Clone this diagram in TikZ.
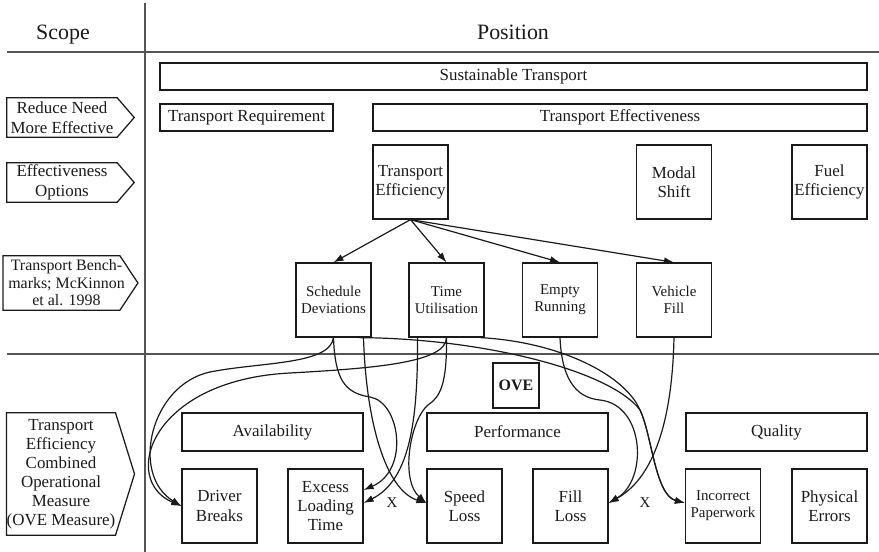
\documentclass[tikz,border=0pt]{standalone}
\usepackage{fontspec}
\setmainfont{Liberation Serif}
\usetikzlibrary{arrows.meta}

\definecolor{ink}{HTML}{1A1A1A}
\definecolor{rulegray}{HTML}{555555}

\begin{document}
\begin{tikzpicture}[x=1bp,y=-1bp,
  every node/.style={text=ink},
  big/.style={font=\fontsize{17}{19.5}\selectfont},
  small/.style={font=\fontsize{15}{17}\selectfont},
  box/.style={draw=ink, line width=1.25bp, inner sep=0pt, align=center, big},
  wide/.style={box, minimum height=27bp},
  cat/.style={box, minimum width=181bp, minimum height=38bp},
  sq/.style={box, minimum width=75bp, minimum height=74bp},
  tag/.style={inner sep=0pt, align=center, big},
  tagline/.style={draw=ink, line width=1.25bp, line join=miter},
  heading/.style={font=\fontsize{22}{26}\selectfont, anchor=base},
  divider/.style={draw=rulegray, line width=1.6bp},
  link/.style={draw=ink, line width=1.2bp, -{Latex[length=10bp,width=7bp]}},
]
\useasboundingbox (0,0) rectangle (879,552);

% column dividers
\draw[divider] (7,52) -- (879,52);
\draw[divider] (7,354) -- (879,354);
\draw[divider] (145,3) -- (145,552);

% headings
\node[heading] (scope) at (63,40) {Scope};
\node[heading] (position) at (513,40) {Position};

% scope tags (pentagon arrows)
\node[tag, minimum width=110bp, minimum height=39bp] (tagA) at (62,117.5) {Reduce Need\\More Effective};
\draw[tagline] (tagA.north west) -- (tagA.north east) -- ([xshift=17bp]tagA.east) -- (tagA.south east) -- (tagA.south west) -- cycle;

\node[tag, minimum width=110bp, minimum height=39bp] (tagB) at (62,182.5) {Effectiveness\\Options};
\draw[tagline] (tagB.north west) -- (tagB.north east) -- ([xshift=17bp]tagB.east) -- (tagB.south east) -- (tagB.south west) -- cycle;

% the benchmark tag's text sits a little right of the body's centre
\node[tag, font=\fontsize{16}{17.5}\selectfont, minimum width=109bp, minimum height=54bp] (tagC) at (66.5,283) {Transport Bench-\\marks; McKinnon\\et al. 1998};
\draw[tagline] ([xshift=-5bp]tagC.north west) -- ([xshift=-5bp]tagC.north east) -- ([xshift=13bp]tagC.east) -- ([xshift=-5bp]tagC.south east) -- ([xshift=-5bp]tagC.south west) -- cycle;

\node[tag, font=\fontsize{17}{19}\selectfont, minimum width=108bp, minimum height=122bp] (tagD) at (61,474) {Transport\\Efficiency\\Combined\\Operational\\Measure\\(OVE Measure)};
\draw[tagline] (tagD.north west) -- (tagD.north east) -- ([xshift=19bp]tagD.east) -- (tagD.south east) -- (tagD.south west) -- cycle;

% position hierarchy
\node[wide, minimum width=707bp] (sust) at (513.5,76.5) {Sustainable Transport};
\node[wide, minimum width=173bp] (treq) at (246.5,117.5) {Transport Requirement};
\node[wide, minimum width=494bp] (teff) at (620,117.5) {Transport Effectiveness};

\node[sq] (tefc) at (410.5,182) {Transport\\Efficiency};
\node[sq] (modal) at (674,182) {Modal\\Shift};
\node[sq] (fuel) at (829.5,182) {Fuel\\Efficiency};

\node[sq, small] (sd) at (333.5,300) {Schedule\\Deviations};
\node[sq, small] (tu) at (446.5,300) {Time\\Utilisation};
\node[sq, small] (er) at (560,300) {Empty\\Running};
\node[sq, small] (vf) at (674,300) {Vehicle\\Fill};

\node[box, font=\bfseries\fontsize{16}{18}\selectfont, minimum width=46bp, minimum height=45bp] (ove) at (516,385.5) {OVE};

\node[cat] (avail) at (272.5,432) {Availability};
\node[cat] (perf) at (517.5,432) {Performance};
\node[cat] (qual) at (776.5,432) {Quality};

\node[sq] (db) at (219.5,506) {Driver\\Breaks};
\node[sq] (elt) at (325.5,506) {Excess\\Loading\\Time};
\node[sq] (sl) at (464.5,506) {Speed\\Loss};
\node[sq] (fl) at (570.5,506) {Fill\\Loss};
\node[sq, small] (ip) at (723,506) {Incorrect\\Paperwork};
\node[sq] (pe) at (829.5,506) {Physical\\Errors};

\node[small] (xa) at (392,503) {X};
\node[small] (xb) at (645,503) {X};

% transport efficiency to benchmarks
\foreach \t in {sd,tu,er,vf}
  \draw[link] (tefc.south) -- (\t.north);

% schedule deviations
\draw[link] (sd.south) .. controls (330,365) and (260,362) .. (210,372)
  .. controls (150,385) and (130,475) .. (db.west);
\draw[link] (sd.south) .. controls (335,380) and (345,393) .. (370,397)
  .. controls (400,402) and (410,470) .. ([yshift=16bp]elt.east);
\draw[link] ([xshift=30bp]sd.south) .. controls (366,420) and (385,490) .. ([yshift=3bp]sl.west);
\draw[link] ([xshift=24bp]sd.south) .. controls (480,338) and (610,370) .. (640,410)
  .. controls (652,435) and (655,495) .. ([yshift=3bp]ip.west);

% time utilisation
\draw[link] (tu.south) .. controls (446,362) and (380,368) .. (290,373)
  .. controls (150,380) and (120,480) .. (db.west);
\draw[link] ([xshift=-29bp]tu.south) .. controls (418,420) and (410,480) .. ([yshift=3bp]elt.east);
\draw[link] (tu.south) .. controls (447,385) and (440,397) .. (428,405)
  .. controls (410,420) and (400,480) .. ([yshift=3bp]sl.west);
\draw[link] ([xshift=34bp]tu.south) .. controls (560,342) and (625,375) .. (640,410)
  .. controls (652,435) and (655,495) .. ([yshift=3bp]ip.west);

% empty running and vehicle fill
\draw[link] (er.south) .. controls (562,385) and (580,398) .. (600,400)
  .. controls (645,405) and (648,480) .. ([yshift=3bp]fl.east);
\draw[link] (vf.south) .. controls (672,430) and (650,480) .. ([yshift=3bp]fl.east);

\end{tikzpicture}
\end{document}
